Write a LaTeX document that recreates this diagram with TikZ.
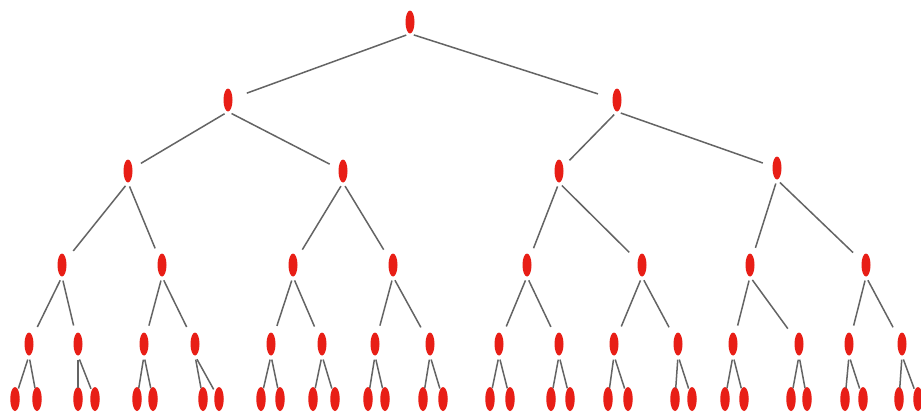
\documentclass[tikz,border=0pt]{standalone}
\usetikzlibrary{shapes.geometric}
\definecolor{vxred}{RGB}{232,30,22}
\definecolor{edgegray}{RGB}{100,100,100}
\tikzset{
  vx/.style={ellipse, fill=vxred, draw=none, inner sep=0pt,
             minimum width=9pt, minimum height=23pt},
  link/.style={draw=edgegray, line width=1.5pt, shorten <=4pt}
}
\begin{document}
\begin{tikzpicture}[x=1pt, y=-1pt]
\useasboundingbox[fill=white] (0,0) rectangle (921,416);

% vertices, level by level
\node[vx] (n0-0) at (410,22) {};
\foreach \x [count=\i from 0] in {228,617}
  \node[vx] (n1-\i) at (\x,100) {};
\foreach \x/\y [count=\i from 0] in {128/171,343/171,559/171,777/168}
  \node[vx] (n2-\i) at (\x,\y) {};
\foreach \x [count=\i from 0] in {62,162,293,393,527,642,750,866}
  \node[vx] (n3-\i) at (\x,265) {};
\foreach \x [count=\i from 0] in {29,78,144,195,271,322,375,430,499,559,614,678,733,799,849,902}
  \node[vx] (n4-\i) at (\x,344) {};
\foreach \x [count=\i from 0] in {15,37,78,95,137,153,203,219,261,280,313,335,368,385,423,443,
                                  490,510,551,570,608,628,675,692,725,744,791,807,845,863,899,918}
  \node[vx, minimum width=9.5pt, minimum height=24pt] (n5-\i) at (\x,399) {};

% edges from each parent to its two children
\foreach \lv/\pl/\n/\gap in {1/0/2/20, 2/1/4/15, 3/2/8/18, 4/3/16/19, 5/4/32/11} {
  \foreach \i in {1,...,\n} {
    \pgfmathtruncatemacro{\c}{\i-1}
    \pgfmathtruncatemacro{\p}{(\i-1)/2}
    \draw[link, shorten >=\gap pt] (n\pl-\p.south) -- (n\lv-\c.center);
  }
}
\end{tikzpicture}
\end{document}
